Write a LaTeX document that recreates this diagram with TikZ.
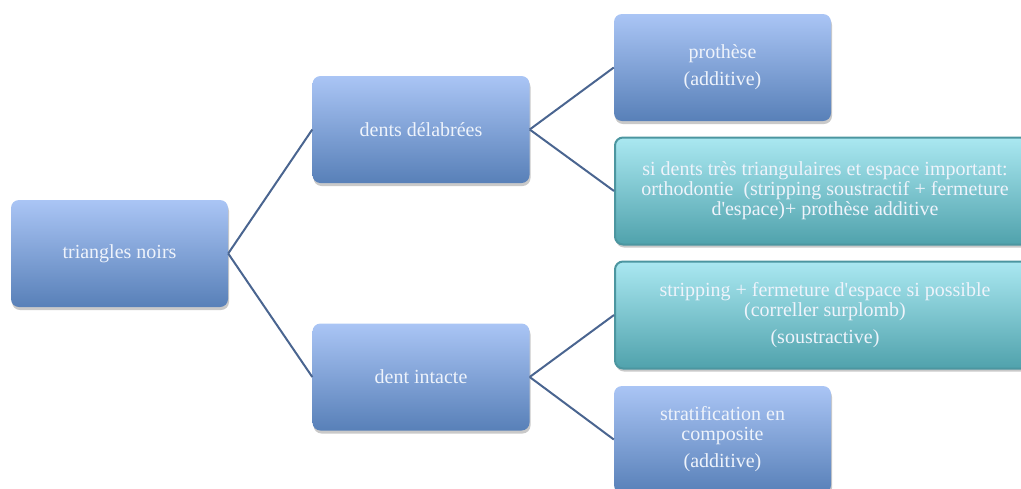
\documentclass[tikz,border=0pt]{standalone}
\usepackage{fontspec}
\setmainfont{Liberation Serif}
\usetikzlibrary{shadows}

\definecolor{boxtop}{RGB}{170,197,245}
\definecolor{boxmid}{RGB}{139,170,222}
\definecolor{boxbot}{RGB}{88,128,184}
\definecolor{tealtop}{RGB}{170,232,241}
\definecolor{tealmid}{RGB}{132,204,214}
\definecolor{tealbot}{RGB}{80,162,172}
\definecolor{tealedge}{RGB}{76,150,160}
\definecolor{wire}{RGB}{74,101,144}
\definecolor{boxtext}{RGB}{238,243,251}

\begin{document}
\begin{tikzpicture}[
    x=1pt, y=-1pt,
    card/.style={
      font=\fontsize{20}{20}\selectfont, align=center, text=boxtext,
      rectangle, rounded corners=8pt,
      minimum width=217pt, minimum height=107pt, inner sep=2pt,
      drop shadow={shadow xshift=1pt, shadow yshift=-3pt, opacity=0.3, fill=black!70},
    },
    bluecard/.style={
      card, draw=none,
      top color=boxtop, middle color=boxmid, bottom color=boxbot,
    },
    tealcard/.style={
      card, draw=tealedge, line width=2pt,
      top color=tealtop, middle color=tealmid, bottom color=tealbot,
      minimum width=420pt, minimum height=107pt,
    },
    branch/.style={wire, line width=2pt},
]
\useasboundingbox (0,0) rectangle (1021,488);
\clip (0,0) rectangle (1021,488);

\node[bluecard] (root) at (119.5,253.5) {triangles noirs};

\node[bluecard] (broken) at (421,129.5) {dents délabrées};
\node[bluecard] (intact) at (421,377) {dent intacte};

\node[bluecard] (prosth) at (722.5,67.5) {prothèse\\[7pt](additive)};
\node[tealcard] (ortho) at (825,191)
  {si dents très triangulaires et espace important:\\
   orthodontie~ (stripping soustractif + fermeture\\
   d\textquotesingle espace)+ prothèse additive};
\node[tealcard] (strip) at (825,315)
  {stripping + fermeture d\textquotesingle espace si possible\\
   (correller surplomb)\\[7pt](soustractive)};
\node[bluecard] (strat) at (722.5,439.5)
  {stratification en\\composite\\[7pt](additive)};

% branches
\draw[branch] (root.east) -- (broken.west);
\draw[branch] (root.east) -- (intact.west);
\draw[branch] (broken.east) -- (prosth.west);
\draw[branch] (broken.east) -- (ortho.west);
\draw[branch] (intact.east) -- (strip.west);
\draw[branch] (intact.east) -- (strat.west);

\end{tikzpicture}
\end{document}
